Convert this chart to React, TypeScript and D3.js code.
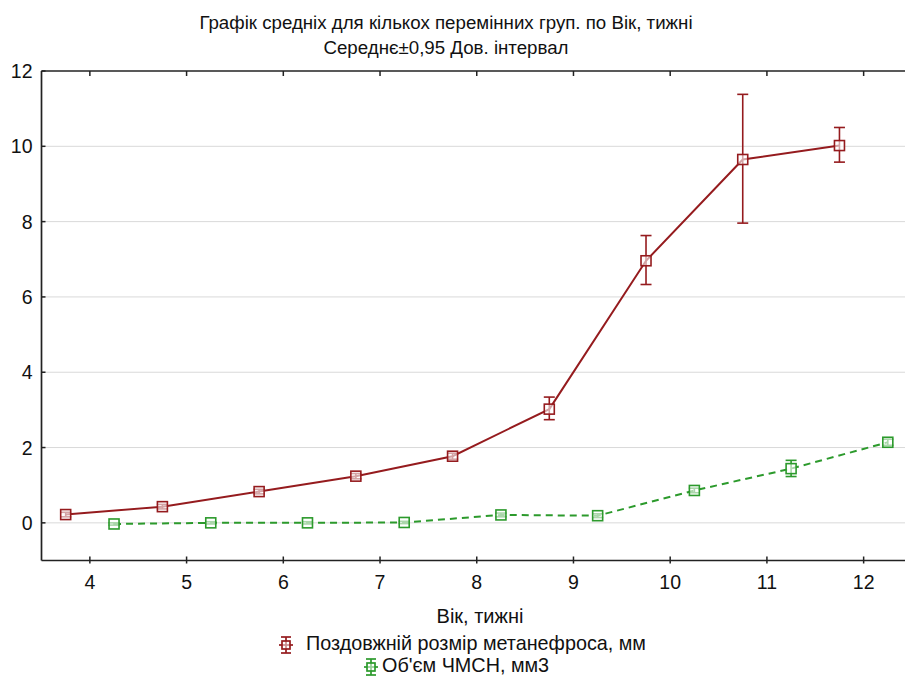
import React from "react";
import * as d3 from "d3";

const titleLines = ["Графік средніх для кількох перемінних груп. по Вік, тижні", "Середнє±0,95 Дов. інтервал"];
const xLabel = "Вік, тижні";
const weeks = [4, 5, 6, 7, 8, 9, 10, 11, 12];
const xTicks = [4, 5, 6, 7, 8, 9, 10, 11, 12];
const yTicks = [0, 2, 4, 6, 8, 10, 12];

const s1Name = "Поздовжній розмір метанефроса, мм";
const s1Mean = [0.22, 0.43, 0.83, 1.24, 1.77, 3.02, 6.96, 9.65, 10.02];
const s1Lo = [0.16, 0.37, 0.77, 1.17, 1.69, 2.74, 6.33, 7.96, 9.58];
const s1Hi = [0.28, 0.49, 0.89, 1.31, 1.85, 3.34, 7.63, 11.38, 10.5];

const s2Name = "Об'єм ЧМСН, мм3";
const s2Mean = [-0.03, 0.0, 0.0, 0.01, 0.21, 0.19, 0.86, 1.44, 2.14];
const s2Lo = [-0.06, -0.03, -0.03, -0.02, 0.16, 0.14, 0.8, 1.23, 2.06];
const s2Hi = [0.0, 0.03, 0.03, 0.04, 0.26, 0.24, 0.92, 1.66, 2.22];

const RED = "#951b1e";
const GREEN = "#2c9a2c";
const FONT = "'Liberation Sans', Arial, sans-serif";

export default function App() {
  const W = 905, H = 677;
  const left = 41.5, right = 912, top = 71, bottom = 560.5;
  const x = d3.scaleLinear().domain([3.5, 12.5]).range([left, right]);
  const y = d3.scaleLinear().domain([-1, 12]).range([bottom, top]);

  const series = [
    { name: s1Name, color: RED, off: -0.25, mean: s1Mean, lo: s1Lo, hi: s1Hi, dash: undefined as string | undefined },
    { name: s2Name, color: GREEN, off: 0.25, mean: s2Mean, lo: s2Lo, hi: s2Hi, dash: "7,5" },
  ];

  const line = d3.line<[number, number]>().x((d) => x(d[0])).y((d) => y(d[1]));

  const legendIcon = (cx: number, cy: number, color: string) => (
    <g stroke={color} strokeWidth={1.7} fill="none">
      <line x1={cx} x2={cx} y1={cy - 8} y2={cy + 8} />
      <line x1={cx - 5} x2={cx + 5} y1={cy - 8} y2={cy - 8} />
      <line x1={cx - 5} x2={cx + 5} y1={cy + 8} y2={cy + 8} />
      <line x1={cx - 7} x2={cx + 7} y1={cy} y2={cy} />
      <rect x={cx - 4} y={cy - 4} width={8} height={8} fill="white" fillOpacity={0.5} />
    </g>
  );

  return (
    <svg width={W} height={H} style={{ position: "absolute", left: 0, top: 0, background: "white" }} fontFamily={FONT}>
      <rect width={W} height={H} fill="white" />
      {titleLines.map((t, i) => (
        <text key={i} x={446} y={29 + i * 25} textAnchor="middle" fontSize={18.7} fill="#111">{t}</text>
      ))}
      {yTicks.filter((v) => v < 12).map((v) => (
        <line key={v} x1={left} x2={right} y1={y(v)} y2={y(v)} stroke="#d9d9d9" strokeWidth={1} />
      ))}
      <line x1={left} x2={left} y1={top} y2={bottom} stroke="#222" strokeWidth={1.7} />
      <line x1={left} x2={right} y1={bottom} y2={bottom} stroke="#222" strokeWidth={1.7} />
      <line x1={left} x2={right} y1={top} y2={top} stroke="#222" strokeWidth={1.7} />
      {xTicks.map((v) => (
        <g key={v}>
          <line x1={x(v)} x2={x(v)} y1={bottom + 3} y2={bottom - 4} stroke="#222" strokeWidth={1.5} />
          <line x1={x(v)} x2={x(v)} y1={top} y2={top + 5} stroke="#222" strokeWidth={1.5} />
          <text x={x(v)} y={589} textAnchor="middle" fontSize={19.5} fill="#111">{v}</text>
        </g>
      ))}
      {yTicks.map((v) => (
        <g key={v}>
          <line x1={left} x2={left + 4} y1={y(v)} y2={y(v)} stroke="#222" strokeWidth={1.5} />
          <text x={left - 9} y={y(v) + 7} textAnchor="end" fontSize={19.5} fill="#111">{v}</text>
        </g>
      ))}
      {series.map((s, si) => {
        const pts: [number, number][] = weeks.map((w, i) => [w + s.off, s.mean[i]]);
        return (
          <g key={si}>
            <path d={line(pts) || ""} fill="none" stroke={s.color} strokeWidth={2} strokeDasharray={s.dash} />
            {weeks.map((w, i) => {
              const cx = x(w + s.off);
              return (
                <g key={i} stroke={s.color} strokeWidth={1.6}>
                  <line x1={cx} x2={cx} y1={y(s.lo[i])} y2={y(s.hi[i])} />
                  <line x1={cx - 5.5} x2={cx + 5.5} y1={y(s.lo[i])} y2={y(s.lo[i])} />
                  <line x1={cx - 5.5} x2={cx + 5.5} y1={y(s.hi[i])} y2={y(s.hi[i])} />
                  <rect x={cx - 5} y={y(s.mean[i]) - 5} width={10} height={10} fill="white" fillOpacity={0.6} />
                </g>
              );
            })}
          </g>
        );
      })}
      <text x={480} y={623} textAnchor="middle" fontSize={20} fill="#111">{xLabel}</text>
      {legendIcon(286, 645, RED)}
      <text x={306} y={650} fontSize={19.8} fill="#111">{s1Name}</text>
      {legendIcon(371, 667, GREEN)}
      <text x={382} y={672} fontSize={19.8} fill="#111">{s2Name}</text>
    </svg>
  );
}
